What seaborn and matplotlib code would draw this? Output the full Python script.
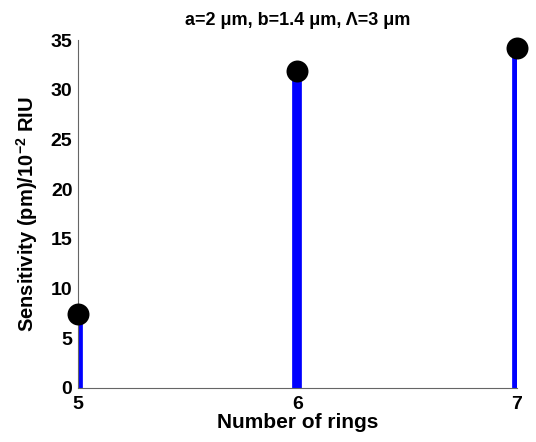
import matplotlib
matplotlib.use("Agg")
import matplotlib.pyplot as plt
import seaborn as sns
import pandas as pd

# Sensitivity versus number of air-hole rings
rings = [5, 6, 7]
sensitivity = [7.4, 31.9, 34.2]
y_ticks = [0, 5, 10, 15, 20, 25, 30, 35]
x_ticks = [5, 6, 7]

sns.set_style("white")
plt.rcParams["font.family"] = ["Liberation Sans", "DejaVu Sans"]
plt.rcParams["font.weight"] = "bold"
plt.rcParams["text.color"] = "black"
plt.rcParams["axes.labelcolor"] = "black"
plt.rcParams["xtick.color"] = "black"
plt.rcParams["ytick.color"] = "black"
plt.rcParams["mathtext.fontset"] = "custom"
plt.rcParams["mathtext.bf"] = "Liberation Sans:bold"
plt.rcParams["mathtext.rm"] = "Liberation Sans:bold"

df = pd.DataFrame({"rings": rings, "sensitivity": sensitivity})

fig = plt.figure(figsize=(5.36, 4.42), dpi=100)
ax = fig.add_axes([0.1455, 0.1225, 0.819, 0.787])

# stems
ax.vlines(df["rings"], 0, df["sensitivity"], colors="#0000ff", linewidth=7, zorder=2)
# heads
sns.scatterplot(data=df, x="rings", y="sensitivity", ax=ax, s=250, color="black",
                edgecolor="black", linewidth=0, zorder=3, clip_on=False, legend=False)

ax.set_xlim(5, 7)
ax.set_ylim(0, 35)
ax.set_xticks(x_ticks)
ax.set_yticks(y_ticks)
ax.tick_params(direction="in", length=3, width=0.8, labelsize=14, pad=4)
ax.tick_params(axis="x", pad=6)
ax.tick_params(axis="both", which="major", color="#666666")
for lab in ax.get_xticklabels() + ax.get_yticklabels():
    lab.set_fontweight("bold")

for side in ["top", "right"]:
    ax.spines[side].set_visible(False)
for side in ["left", "bottom"]:
    ax.spines[side].set_color("#666666")
    ax.spines[side].set_linewidth(0.8)

ax.set_xlabel("Number of rings", fontsize=15, fontweight="bold", labelpad=0)
ax.set_ylabel("Sensitivity (pm)/10$^{\\mathbf{-2}}$ RIU", fontsize=14.5,
              fontweight="bold", labelpad=8)
ax.set_title("a=2 \u03bcm, b=1.4 \u03bcm, \u039b=3 \u03bcm", fontsize=13,
             fontweight="bold", pad=11)

fig.savefig("out.png", dpi=100)
